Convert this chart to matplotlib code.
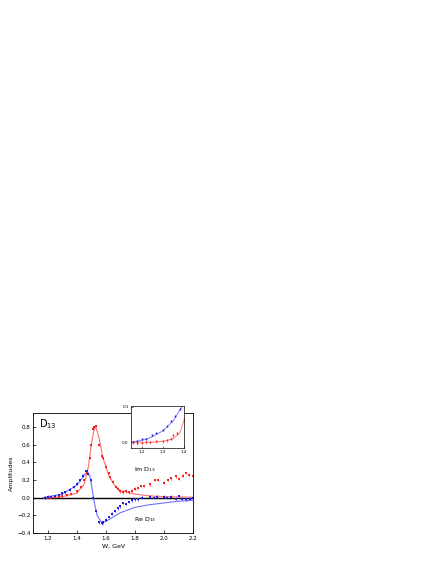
import numpy as np
import matplotlib.pyplot as plt

# ---- Im D13 data points
im_w = [1.18, 1.20, 1.22, 1.25, 1.28, 1.30, 1.33, 1.36, 1.40, 1.43, 1.45, 1.47, 1.49, 1.50,
        1.51, 1.52, 1.53, 1.55, 1.57, 1.58, 1.60, 1.62, 1.63, 1.65, 1.67, 1.68, 1.70, 1.72,
        1.74, 1.76, 1.78, 1.80, 1.82, 1.84, 1.86, 1.90, 1.94, 1.96, 2.00, 2.03, 2.05, 2.08,
        2.10, 2.13, 2.15, 2.17, 2.20]
im_v = [0.0, 0.0, 0.0, 0.005, 0.01, 0.02, 0.03, 0.04, 0.07, 0.12, 0.20, 0.28, 0.45, 0.60,
        0.78, 0.80, 0.81, 0.60, 0.47, 0.45, 0.35, 0.28, 0.23, 0.18, 0.12, 0.10, 0.07, 0.06,
        0.07, 0.06, 0.08, 0.10, 0.11, 0.13, 0.13, 0.15, 0.20, 0.20, 0.17, 0.20, 0.22, 0.24,
        0.21, 0.25, 0.28, 0.26, 0.25]
im_fit_w = [1.17, 1.30, 1.40, 1.45, 1.48, 1.50, 1.52, 1.53, 1.55, 1.58, 1.62, 1.66, 1.70,
            1.80, 1.90, 2.00, 2.20]
im_fit_v = [0.0, 0.01, 0.05, 0.15, 0.35, 0.60, 0.78, 0.80, 0.70, 0.45, 0.25, 0.14, 0.08,
            0.04, 0.02, 0.012, 0.005]

# ---- Re D13 data points
re_w = [1.18, 1.20, 1.22, 1.25, 1.28, 1.30, 1.32, 1.35, 1.38, 1.40, 1.42, 1.44, 1.46, 1.47,
        1.48, 1.50, 1.51, 1.53, 1.55, 1.57, 1.58, 1.60, 1.62, 1.64, 1.66, 1.68, 1.70, 1.72,
        1.74, 1.76, 1.78, 1.80, 1.82, 1.85, 1.90, 1.93, 1.95, 2.00, 2.02, 2.05, 2.08, 2.10,
        2.12, 2.15, 2.18, 2.20]
re_v = [0.0, 0.01, 0.01, 0.02, 0.03, 0.05, 0.06, 0.09, 0.12, 0.16, 0.20, 0.25, 0.30, 0.30,
        0.27, 0.20, 0.0, -0.15, -0.28, -0.29, -0.28, -0.25, -0.22, -0.18, -0.15, -0.12, -0.10,
        -0.06, -0.07, -0.05, -0.03, -0.02, -0.02, 0.0, 0.01, 0.0, 0.01, 0.01, 0.0, 0.01,
        -0.01, 0.02, -0.01, -0.02, -0.01, 0.0]
re_fit_w = [1.17, 1.30, 1.40, 1.45, 1.47, 1.49, 1.50, 1.52, 1.54, 1.57, 1.60, 1.65, 1.70,
            1.80, 1.90, 2.00, 2.10, 2.20]
re_fit_v = [0.0, 0.04, 0.14, 0.25, 0.29, 0.25, 0.15, -0.05, -0.20, -0.28, -0.27, -0.22,
            -0.17, -0.11, -0.08, -0.06, -0.04, -0.03]

# ---- inset (low-energy zoom)
ins_re_w = [1.16, 1.18, 1.20, 1.22, 1.25, 1.27, 1.30, 1.32, 1.34, 1.36, 1.38]
ins_re_v = [0.0, 0.002, 0.01, 0.01, 0.02, 0.025, 0.035, 0.045, 0.06, 0.075, 0.095]
ins_im_w = [1.16, 1.18, 1.20, 1.22, 1.24, 1.27, 1.30, 1.32, 1.34, 1.35, 1.37, 1.40]
ins_im_v = [0.0, -0.003, -0.002, 0.0, 0.0, 0.002, 0.002, 0.005, 0.01, 0.02, 0.025, 0.065]
ins_re_fit_w = [1.15, 1.20, 1.25, 1.30, 1.35, 1.38, 1.40]
ins_re_fit_v = [0.0, 0.005, 0.015, 0.032, 0.06, 0.09, 0.11]
ins_im_fit_w = [1.15, 1.25, 1.30, 1.35, 1.38, 1.40]
ins_im_fit_v = [0.0, 0.0, 0.002, 0.01, 0.025, 0.06]

RED, BLUE = "#ff2020", "#2020e0"
RED_L, BLUE_L = "#ff7070", "#7070ff"

fig = plt.figure(figsize=(4.36, 5.64), dpi=100)
ax = fig.add_axes([0.076, 0.055, 0.367, 0.213])

ax.axhline(0, color="black", lw=1.0)
ax.plot(im_fit_w, im_fit_v, color=RED_L, lw=0.8)
ax.plot(re_fit_w, re_fit_v, color=BLUE_L, lw=0.8)
ax.errorbar(im_w, im_v, yerr=0.015, fmt="s", ms=1.5, mew=0, color=RED, elinewidth=0.5, capsize=0)
ax.errorbar(re_w, re_v, yerr=0.015, fmt="s", ms=1.5, mew=0, color=BLUE, elinewidth=0.5, capsize=0)

ax.set_xlim(1.1, 2.2)
ax.set_ylim(-0.4, 0.96)
ax.set_xticks([1.2, 1.4, 1.6, 1.8, 2.0, 2.2])
ax.set_yticks([-0.4, -0.2, 0.0, 0.2, 0.4, 0.6, 0.8])
ax.tick_params(labelsize=4, length=2, width=0.5, direction="in", pad=2)
for s in ax.spines.values():
    s.set_linewidth(0.6)
ax.set_xlabel("W, GeV", fontsize=4.5, labelpad=2)
ax.set_ylabel("Amplitudes", fontsize=4.5, labelpad=2)
ax.text(1.14, 0.8, "D$_{13}$", fontsize=7)
ax.text(1.79, 0.3, "Im D$_{13}$", fontsize=4.5)
ax.text(1.79, -0.26, "Re D$_{13}$", fontsize=4.5)

ins = fig.add_axes([0.300, 0.206, 0.122, 0.075])
ins.plot(ins_re_fit_w, ins_re_fit_v, color=BLUE_L, lw=0.6)
ins.plot(ins_im_fit_w, ins_im_fit_v, color=RED_L, lw=0.6)
ins.errorbar(ins_re_w, ins_re_v, yerr=0.003, fmt="s", ms=1.2, mew=0, color=BLUE, elinewidth=0.4, capsize=0)
ins.errorbar(ins_im_w, ins_im_v, yerr=0.004, fmt="s", ms=1.2, mew=0, color=RED, elinewidth=0.4, capsize=0)
ins.set_xlim(1.149, 1.401)
ins.set_ylim(-0.016, 0.104)
ins.set_xticks([1.2, 1.3, 1.4])
ins.set_yticks([0.0, 0.1])
ins.tick_params(labelsize=3, length=1.5, width=0.4, direction="in", pad=1.5)
for s in ins.spines.values():
    s.set_linewidth(0.5)

fig.savefig("out.png", dpi=100)
